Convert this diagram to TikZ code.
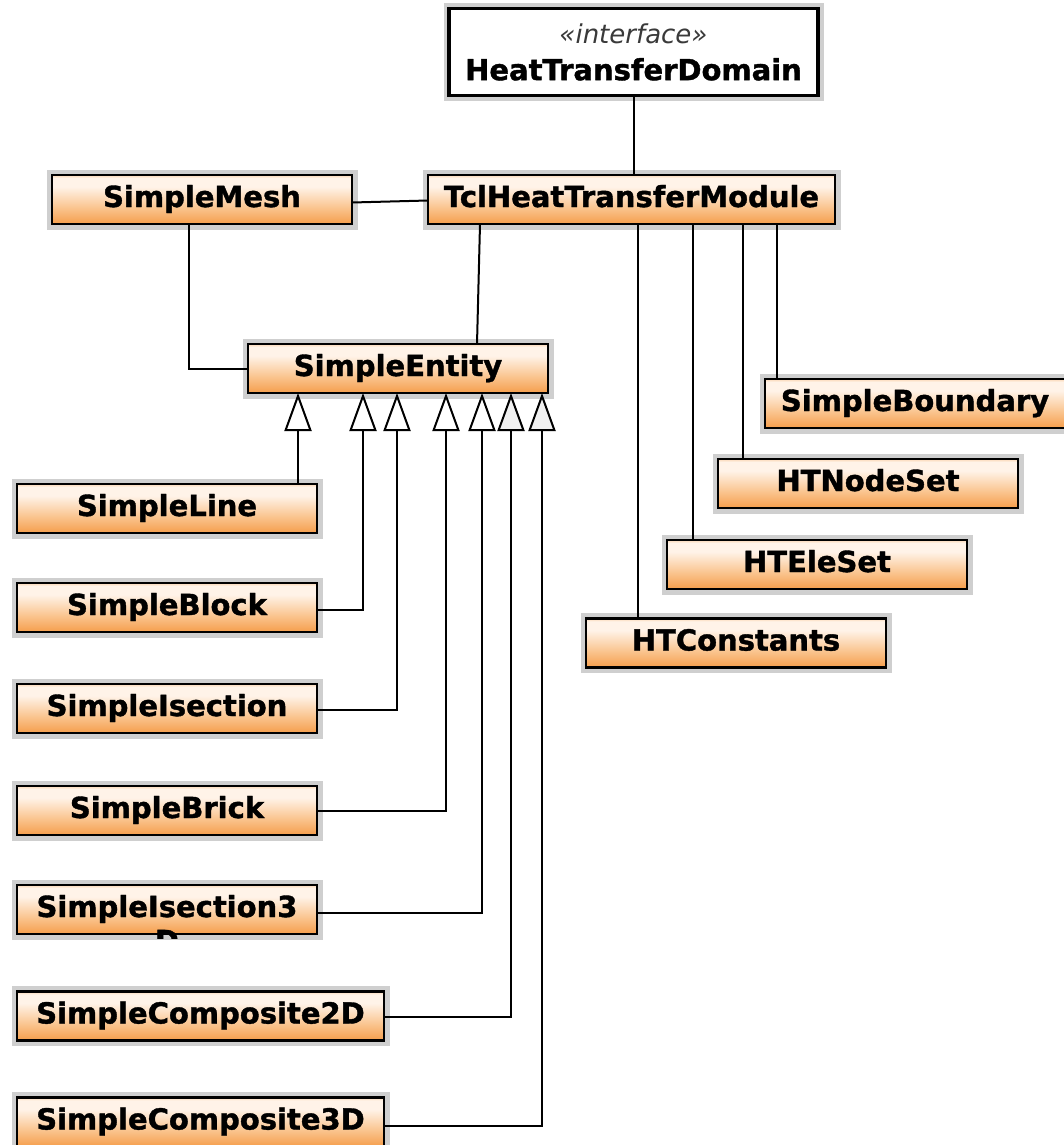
\documentclass[tikz,border=0pt]{standalone}
\usepackage{fontspec}
\setmainfont{DejaVu Sans}[BoldFeatures={FakeBold=1.3}]
\usetikzlibrary{arrows.meta}
\definecolor{orB}{HTML}{F59E4C}
\definecolor{orM}{HTML}{FAC590}
\definecolor{orW}{HTML}{FFF3E8}
\definecolor{orTop}{HTML}{FAD6B4}
\definecolor{halo}{HTML}{CFCFCF}
\definecolor{stereo}{HTML}{3A3A3A}
\pgfdeclareverticalshading{umlorange}{100bp}{color(0bp)=(orB); color(25bp)=(orB); color(42bp)=(orM); color(63bp)=(orW); color(72bp)=(orW); color(75bp)=(orTop); color(100bp)=(orTop)}
\tikzset{
  classbox/.style={draw=black, line width=2.8pt, shading=umlorange,
    minimum width=300pt, minimum height=49pt, inner sep=0pt, outer sep=0pt,
    font=\bfseries\fontsize{29}{35}\selectfont, text height=21pt, text depth=6pt,
    preaction={draw=halo, line width=11pt}},
  ifacebox/.style={draw=black, line width=3.5pt, fill=white,
    minimum width=369pt, minimum height=87pt, inner sep=0pt, outer sep=0pt,
    align=center, font=\fontsize{29}{37}\selectfont,
    preaction={draw=halo, line width=11pt}},
  conn/.style={draw=black, line width=2pt},
  inh/.style={conn, -{Triangle[length=38pt, width=27pt, fill=white]}},
  inhg/.style={conn, -{Triangle[length=38pt, width=27pt, fill=gray!12]}},
}
\begin{document}
\begin{tikzpicture}[x=1pt, y=-1pt]
\useasboundingbox (0,0) rectangle (1064,1145);
\clip (0,0) rectangle (1064,1145);

% nodes
\node[ifacebox] (HTD) at (633.5,52)
  {{\fontsize{26}{37}\selectfont\itshape\color{stereo}«interface»}\\
   {\bfseries HeatTransferDomain}};
\node[classbox] (SimpleMesh) at (202,199.5) {SimpleMesh};
\node[classbox, minimum width=407pt] (Tcl) at (631.5,199.5) {TclHeatTransferModule};
\node[classbox] (SimpleEntity) at (398,368.5) {SimpleEntity};

\node[classbox] (SimpleLine) at (167,508.5) {SimpleLine};
\node[classbox] (SimpleBlock) at (167,607.5) {SimpleBlock};
\node[classbox] (SimpleIsection) at (167,708.5) {SimpleIsection};
\node[classbox] (SimpleBrick) at (167,810.5) {SimpleBrick};
\node[classbox] (SimpleIsection3D) at (167,909.5) {SimpleIsection3};
\begin{scope}
  \clip (0,929) rectangle (340,938);
  \node[anchor=base, inner sep=0pt, font=\bfseries\fontsize{29}{35}\selectfont]
    (SimpleIsection3Dtail) at ([yshift=-34pt]SimpleIsection3D.base) {D};
\end{scope}
\node[classbox, minimum width=367pt] (SimpleComposite2D) at (200.5,1016) {SimpleComposite2D};
\node[classbox, minimum width=367pt] (SimpleComposite3D) at (200.5,1122) {SimpleComposite3D};

\node[classbox] (SimpleBoundary) at (915,403.5) {SimpleBoundary};
\node[classbox] (HTNodeSet) at (868,483.5) {HTNodeSet};
\node[classbox] (HTEleSet) at (817,564.5) {HTEleSet};
\node[classbox] (HTConstants) at (736,643) {HTConstants};

% associations
\draw[conn] (HTD.south) -- (HTD.south |- Tcl.north);
\draw[conn] ([yshift=-3pt]SimpleMesh.east) -- ([yshift=-1pt]Tcl.west);
\draw[conn] ([xshift=137pt]SimpleMesh.south west) |- (SimpleEntity.west);
\draw[conn] ([xshift=52pt]Tcl.south west) -- ([xshift=229pt]SimpleEntity.north west);
\draw[conn] ([xshift=210pt]Tcl.south west) -- ([xshift=52pt]HTConstants.north west);
\draw[conn] ([xshift=265pt]Tcl.south west) -- ([xshift=26pt]HTEleSet.north west);
\draw[conn] ([xshift=315pt]Tcl.south west) -- ([xshift=25pt]HTNodeSet.north west);
\draw[conn] ([xshift=349pt]Tcl.south west) -- ([xshift=12pt]SimpleBoundary.north west);

% generalizations
\draw[inh] ([xshift=281pt]SimpleLine.north west) -- ([xshift=50pt]SimpleEntity.south west);
\draw[inh] ([yshift=-2pt]SimpleBlock.east) -| ([xshift=115pt]SimpleEntity.south west);
\draw[inh] ([yshift=-1pt]SimpleIsection.east) -| ([xshift=149pt]SimpleEntity.south west);
\draw[inh] (SimpleBrick.east) -| ([xshift=198pt]SimpleEntity.south west);
\draw[inh] ([yshift=-3pt]SimpleIsection3D.east) -| ([xshift=234pt]SimpleEntity.south west);
\draw[inhg] ([yshift=-1pt]SimpleComposite2D.east) -| ([xshift=263pt]SimpleEntity.south west);
\draw[inhg] ([yshift=-4pt]SimpleComposite3D.east) -| ([xshift=294pt]SimpleEntity.south west);
\end{tikzpicture}
\end{document}
